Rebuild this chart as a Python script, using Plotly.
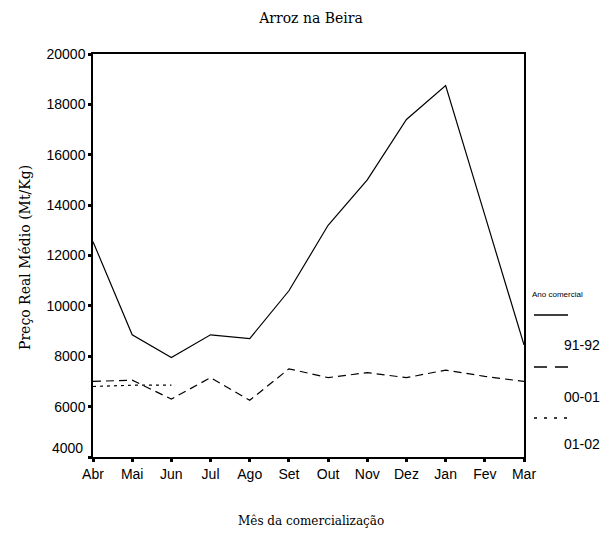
import plotly.graph_objects as go

# ---- data ----
months = ["Abr", "Mai", "Jun", "Jul", "Ago", "Set", "Out", "Nov", "Dez", "Jan", "Fev", "Mar"]
price_91_92 = [12550, 8850, 7950, 8850, 8700, 10600, 13200, 15000, 17400, 18750, 13600, 8450]
price_00_01 = [7000, 7050, 6300, 7150, 6250, 7500, 7150, 7350, 7150, 7450, 7200, 7000]
months_01_02 = ["Abr", "Mai", "Jun"]
price_01_02 = [6800, 6850, 6850]
series_names = ["91-92", "00-01", "01-02"]
y_ticks = [4000, 6000, 8000, 10000, 12000, 14000, 16000, 18000, 20000]

W, H = 606, 537
L, R, T, B = 93, 82, 54, 80
PW, PH = W - L - R, H - T - B

def px_x(px):
    return (px - L) / PW

def px_y(py):
    return (H - B - py) / PH

serif = "DejaVu Serif"
sans = "Liberation Sans, Arial, sans-serif"

fig = go.Figure()
styles = [("solid", price_91_92, months), ("8px,5px", price_00_01, months), ("3px,4px", price_01_02, months_01_02)]
legend_dash = ["solid", "13px,8px", "3px,7px"]
for name, (dash, ys, xs) in zip(series_names, styles):
    fig.add_trace(go.Scatter(
        x=xs, y=ys, mode="lines", name=name, showlegend=False,
        line=dict(color="black", width=1.2, dash=dash), cliponaxis=False,
    ))

fig.update_layout(
    width=W, height=H,
    margin=dict(l=L, r=R, t=T, b=B),
    paper_bgcolor="white", plot_bgcolor="white",
    title=dict(text="Arroz na Beira", x=311 / W, xref="container",
               y=1 - 18 / H, yref="container", xanchor="center", yanchor="middle",
               font=dict(family=serif, size=14, color="black")),
    xaxis=dict(
        type="category", categoryorder="array", categoryarray=months,
        range=[0, len(months) - 1],
        showgrid=False, zeroline=False,
        showline=True, linecolor="black", linewidth=1.5, mirror=True,
        ticks="outside", ticklen=3, tickwidth=3, tickcolor="black",
        tickfont=dict(family=sans, size=14, color="black"),
    ),
    yaxis=dict(
        range=[4000, 20000],
        tickvals=y_ticks,
        ticktext=["" if v == 4000 else str(v) for v in y_ticks],
        showgrid=False, zeroline=False,
        showline=True, linecolor="black", linewidth=1.5, mirror=True,
        ticks="outside", ticklen=3, tickwidth=3, tickcolor="black",
        tickfont=dict(family=sans, size=14, color="black"),
    ),
)

annotations = [
    # shifted bottom tick label
    dict(text=str(y_ticks[0]), x=0, xref="paper", y=y_ticks[0], yref="y",
         xanchor="right", yanchor="middle", xshift=-8, yshift=9, showarrow=False,
         font=dict(family=sans, size=14, color="black")),
    # axis titles
    dict(text="Mês da comercialização", x=px_x(311), xref="paper", y=px_y(521), yref="paper",
         xanchor="center", yanchor="middle", showarrow=False,
         font=dict(family=serif, size=12, color="black")),
    dict(text="Preço Real Médio (Mt/Kg)", x=px_x(25), xref="paper", y=px_y(258), yref="paper",
         xanchor="center", yanchor="middle", textangle=-90, showarrow=False,
         font=dict(family=serif, size=14, color="black")),
    # legend title
    dict(text="Ano comercial", x=px_x(530), xref="paper", y=px_y(294), yref="paper",
         xanchor="left", yanchor="middle", showarrow=False,
         font=dict(family=sans, size=8, color="black")),
]
shapes = []
leg_line_y = [315, 367, 418]
leg_text_y = [345, 397, 444]
for name, dash, ly, ty in zip(series_names, legend_dash, leg_line_y, leg_text_y):
    shapes.append(dict(type="line", xref="paper", yref="paper",
                       x0=px_x(534), x1=px_x(568), y0=px_y(ly), y1=px_y(ly),
                       line=dict(color="black", width=1.5, dash=dash)))
    annotations.append(dict(text=name, x=px_x(562), xref="paper", y=px_y(ty), yref="paper",
                            xanchor="left", yanchor="middle", showarrow=False,
                            font=dict(family=sans, size=14, color="black")))

fig.update_layout(annotations=annotations, shapes=shapes)
fig.write_html("out.html", config={"displayModeBar": False},
               post_script="document.body.style.margin='0';")
